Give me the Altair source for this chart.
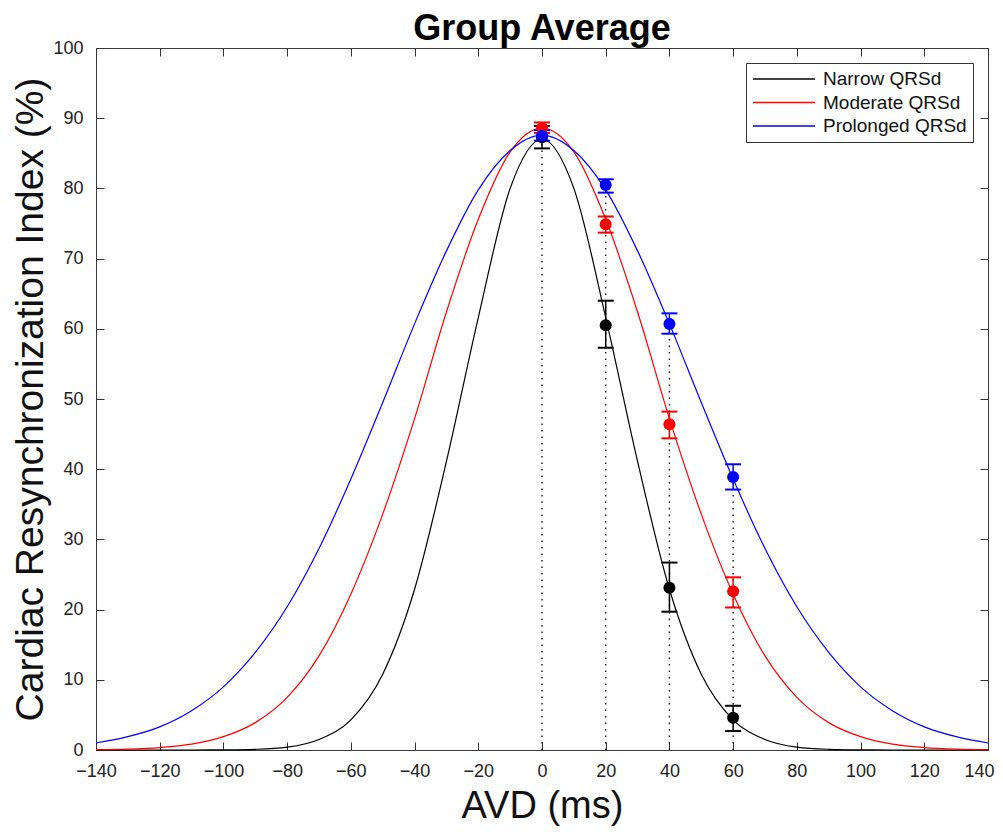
import altair as alt
import pandas as pd

# ---- data ----
ms_grid = [-140, -130, -120, -110, -100, -90, -80, -70, -60, -50, -40, -30, -20, -10, 0,
           10, 20, 30, 40, 50, 60, 70, 80, 90, 100, 110, 120, 130, 140]
narrow_curve = [0.0, 0.0, 0.0, 0.0, 0.02, 0.1, 0.4, 1.5, 4.3, 10.8, 22.9, 41.1, 61.6, 80.0, 87.0,
                80.0, 61.6, 41.1, 22.9, 10.8, 4.3, 1.5, 0.4, 0.1, 0.02, 0.0, 0.0, 0.0, 0.0]
moderate_curve = [0.05, 0.13, 0.35, 0.84, 1.9, 3.9, 7.5, 13.4, 22.2, 33.6, 47.2, 62.4, 75.6, 85.2, 88.6,
                  85.2, 75.6, 62.4, 47.2, 33.6, 22.2, 13.4, 7.5, 3.9, 1.9, 0.84, 0.35, 0.13, 0.05]
prolonged_curve = [1.0, 1.9, 3.3, 5.6, 9.0, 13.9, 20.4, 28.7, 38.6, 49.5, 60.7, 71.1, 79.8, 85.4, 87.6,
                   85.4, 79.8, 71.1, 60.7, 49.5, 38.6, 28.7, 20.4, 13.9, 9.0, 5.6, 3.3, 1.9, 1.0]

groups = ["Narrow QRSd", "Moderate QRSd", "Prolonged QRSd"]
colors = ["#000000", "#ff0000", "#0000ff"]

avd_points = [0, 20, 40, 60]
narrow_mean = [87.3, 60.5, 23.1, 4.6]
narrow_lo = [85.7, 57.3, 19.7, 2.7]
narrow_hi = [88.9, 64.0, 26.7, 6.3]
moderate_mean = [88.6, 74.9, 46.4, 22.6]
moderate_lo = [87.9, 73.7, 44.4, 20.3]
moderate_hi = [89.4, 76.0, 48.2, 24.6]
prolonged_mean = [87.5, 80.5, 60.7, 38.9]
prolonged_lo = [86.8, 79.4, 59.3, 37.1]
prolonged_hi = [88.3, 81.3, 62.2, 40.7]

x_ticks = [-140, -120, -100, -80, -60, -40, -20, 0, 20, 40, 60, 80, 100, 120, 140]
y_ticks = [0, 10, 20, 30, 40, 50, 60, 70, 80, 90, 100]

# ---- tables ----
curve_rows = []
for g, vals in zip(groups, [narrow_curve, moderate_curve, prolonged_curve]):
    for m, v in zip(ms_grid, vals):
        curve_rows.append({"ms": m, "cri": v, "group": g})
curve_df = pd.DataFrame(curve_rows)

pt_rows = []
for g, mn, lo, hi in zip(groups,
                         [narrow_mean, moderate_mean, prolonged_mean],
                         [narrow_lo, moderate_lo, prolonged_lo],
                         [narrow_hi, moderate_hi, prolonged_hi]):
    for m, a, b, c in zip(avd_points, mn, lo, hi):
        pt_rows.append({"ms": m, "mean": a, "lo": b, "hi": c, "group": g})
pt_df = pd.DataFrame(pt_rows)

drop_df = pt_df.groupby("ms", as_index=False)["mean"].max()
drop_df["base"] = 0

FONT = "Liberation Sans"
xscale = alt.Scale(domain=[-140, 140], nice=False, zero=False)
yscale = alt.Scale(domain=[0, 100], nice=False)
cscale = alt.Scale(domain=groups, range=colors)

def tick_axis(orient, values):
    return alt.Axis(orient=orient, title=None, labels=False, domain=False, grid=False,
                    ticks=True, tickSize=8, tickColor="#333333", tickWidth=1,
                    values=values, offset=-8)

# curves, with the main labelled axes
curves = alt.Chart(curve_df).mark_line(strokeWidth=1.2, interpolate="monotone").encode(
    x=alt.X("ms:Q", scale=xscale,
            axis=alt.Axis(orient="bottom", title="AVD (ms)", values=x_ticks, ticks=False,
                          tickSize=0, domain=False, grid=False, labelFontSize=18,
                          labelPadding=12, labelFlush=False, labelOverlap=False,
                          labelOffset={"condition": {"test": "datum.value === 140", "value": -9},
                                       "value": 0},
                          labelColor="#222222", titleFontSize=38, titlePadding=7,
                          titleFontWeight="normal", titleColor="#111111")),
    y=alt.Y("cri:Q", scale=yscale,
            axis=alt.Axis(orient="left", title="Cardiac Resynchronization Index (%)",
                          values=y_ticks, ticks=False, tickSize=0, domain=False, grid=False,
                          labelFontSize=18, labelPadding=13, labelFlush=False,
                          labelOverlap=False, labelColor="#222222", titleFontSize=39,
                          titlePadding=2, titleFontWeight="normal", titleColor="#111111")),
    color=alt.Color("group:N", scale=cscale,
                    legend=alt.Legend(title=None, orient="top-right", offset=15,
                                      symbolType="stroke", symbolSize=3844,
                                      symbolStrokeWidth=1.3, clipHeight=20, rowPadding=3.5,
                                      labelFontSize=19, labelColor="#111111", labelOffset=7,
                                      padding=6, strokeColor="#333333", fillColor="white",
                                      cornerRadius=0)),
    detail="group:N",
)

# dotted drop lines (with inward ticks on bottom/left)
drops = alt.Chart(drop_df).mark_rule(color="black", strokeWidth=1.3, strokeDash=[1.5, 5]).encode(
    x=alt.X("ms:Q", scale=xscale, axis=tick_axis("bottom", x_ticks)),
    y=alt.Y("base:Q", scale=yscale, axis=tick_axis("left", y_ticks)),
    y2="mean:Q",
)

# error bar stems (with inward ticks on top/right)
stems = alt.Chart(pt_df).mark_rule(strokeWidth=1.5).encode(
    x=alt.X("ms:Q", scale=xscale, axis=tick_axis("top", x_ticks)),
    y=alt.Y("lo:Q", scale=yscale, axis=tick_axis("right", y_ticks)),
    y2="hi:Q",
    color=alt.Color("group:N", scale=cscale, legend=None),
)

caps_lo = alt.Chart(pt_df).mark_tick(orient="horizontal", size=16, thickness=2, opacity=1).encode(
    x=alt.X("ms:Q", scale=xscale, axis=None),
    y=alt.Y("lo:Q", scale=yscale, axis=None),
    color=alt.Color("group:N", scale=cscale, legend=None),
)
caps_hi = alt.Chart(pt_df).mark_tick(orient="horizontal", size=16, thickness=2, opacity=1).encode(
    x=alt.X("ms:Q", scale=xscale, axis=None),
    y=alt.Y("hi:Q", scale=yscale, axis=None),
    color=alt.Color("group:N", scale=cscale, legend=None),
)

points = alt.Chart(pt_df).mark_circle(size=145, opacity=1).encode(
    x=alt.X("ms:Q", scale=xscale, axis=None),
    y=alt.Y("mean:Q", scale=yscale, axis=None),
    color=alt.Color("group:N", scale=cscale, legend=None),
)

chart = alt.layer(drops, curves, stems, caps_lo, caps_hi, points).resolve_axis(
    x="independent", y="independent"
).properties(
    width=892,
    height=702,
    autosize=alt.AutoSizeParams(type="none"),
    padding={"left": 88, "top": 40, "right": 7, "bottom": 78},
    title=alt.TitleParams("Group Average", fontSize=36, font=FONT, fontWeight="bold",
                          anchor="middle", frame="group", offset=3, dy=12, color="black"),
).configure(
    font=FONT,
).configure_axis(
    labelFont=FONT, titleFont=FONT,
).configure_legend(
    labelFont=FONT,
).configure_view(
    stroke="#3a3a3a", strokeWidth=1,
)

chart.save("out.html", embed_options={"renderer": "svg", "actions": False})
